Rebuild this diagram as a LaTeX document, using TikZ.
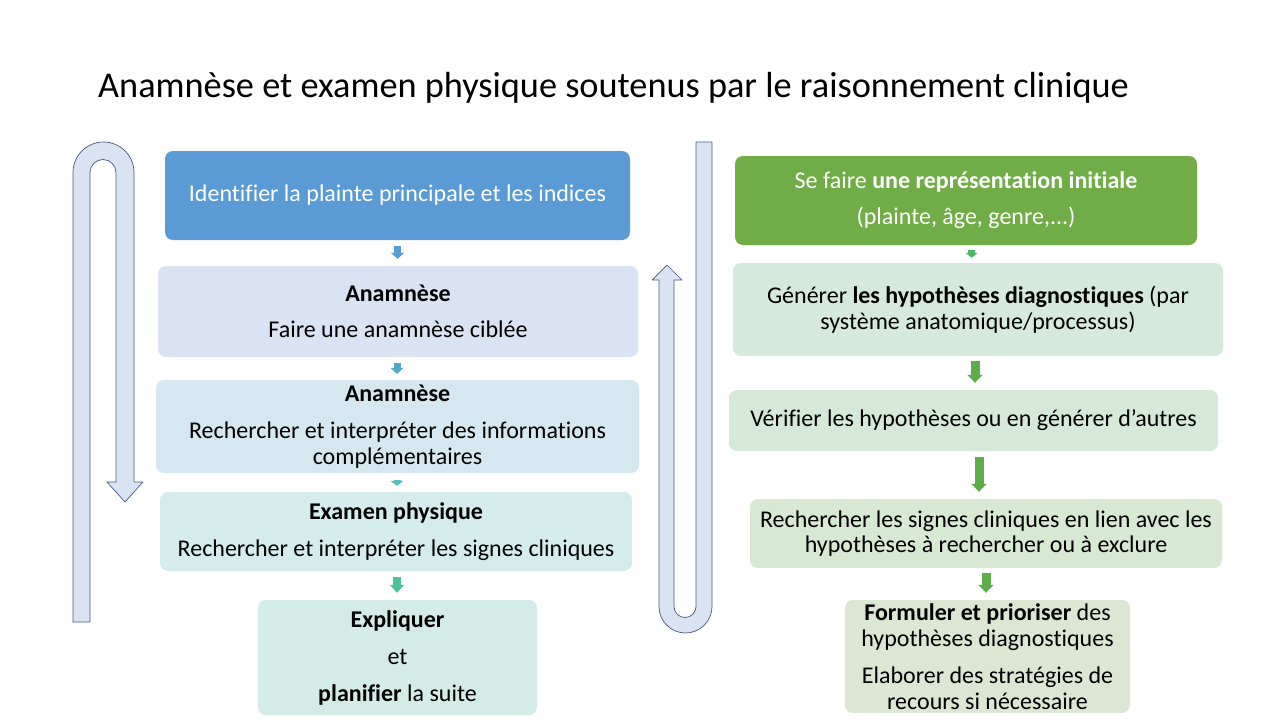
\documentclass[tikz,border=0pt]{standalone}
\usepackage{fontspec}
\setmainfont{Carlito}[Ligatures=NoCommon]
\usetikzlibrary{arrows.meta,calc}
\definecolor{cblue}{HTML}{5B9BD5}
\definecolor{cgreen}{HTML}{70AD47}
\definecolor{fL2}{HTML}{DAE3F3}
\definecolor{fL3}{HTML}{D6E8EF}
\definecolor{fL4}{HTML}{D5ECEC}
\definecolor{fL5}{HTML}{D4ECE7}
\definecolor{fR2}{HTML}{D5EADC}
\definecolor{fR3}{HTML}{D6E9D9}
\definecolor{fR4}{HTML}{D7E8D3}
\definecolor{fR5}{HTML}{DCE7D3}
\definecolor{aL2}{HTML}{4BACC6}
\definecolor{aL3}{HTML}{53C0BE}
\definecolor{aL4}{HTML}{4CC397}
\definecolor{aR1}{HTML}{4DB86C}
\definecolor{aR}{HTML}{5DAE4B}
\definecolor{ufill}{HTML}{DAE3F3}
\definecolor{uline}{HTML}{4A5B7D}
\tikzset{
  box/.style={draw=none, rounded corners=8pt, align=center, inner sep=0pt,
    font=\fontsize{24}{25.5}\selectfont, text=black},
  barr/.style={line width=#1, -{Triangle[width=13pt,length=6pt]}},
  uturn/.style={fill=ufill, draw=uline, line width=0.7pt, line join=round}
}
\begin{document}
\begin{tikzpicture}[x=1pt,y=-1pt]
\useasboundingbox (0,0) rectangle (1280,720);
\fill[white] (0,0) rectangle (1280,720);

\node[anchor=west, inner sep=0pt, font=\fontsize{36.3}{40}\selectfont] (title) at (98,88)
  {Anamnèse et examen physique soutenus par le raisonnement clinique};

% U-turn arrows
\draw[uturn] (73,622) -- (73,172.5) arc[start angle=180,end angle=360,radius=30.5]
  -- (134,482) -- (143,482) -- (125,502) -- (107,482) -- (116,482) -- (116,172.5)
  arc[start angle=360,end angle=180,radius=13] -- (90,622) -- cycle;
\draw[uturn] (696,142) -- (712,142) -- (712,606.5) arc[start angle=0,end angle=180,radius=26.5]
  -- (659,280) -- (652,280) -- (667,265) -- (682,280) -- (674,280) -- (674,606.5)
  arc[start angle=180,end angle=0,radius=11] -- cycle;

% left column
\node[box, fill=cblue, text=white, minimum width=465pt, minimum height=89pt] (L1) at (397.5,195.5)
  {Identifier la plainte principale et les indices};
\node[box, fill=fL2, minimum width=480pt, minimum height=91pt] (L2) at (398,311.5)
  {\textbf{Anamnèse}\\[10.5pt] Faire une anamnèse ciblée};
\node[box, fill=fL3, minimum width=483pt, minimum height=93pt] (L3) at (397.5,426.5)
  {\textbf{Anamnèse}\\[11.5pt] Rechercher et interpréter des informations\\ complémentaires};
\node[box, fill=fL4, minimum width=472pt, minimum height=79pt] (L4) at (396,531.5)
  {\textbf{Examen physique}\\[11.5pt] Rechercher et interpréter les signes cliniques};
\node[box, fill=fL5, minimum width=279pt, minimum height=115pt] (L5) at (397.5,657.5)
  {\textbf{Expliquer}\\[11.5pt] et\\[11.5pt] \textbf{planifier} la suite};

% right column
\node[box, fill=cgreen, text=white, minimum width=462pt, minimum height=89pt] (R1) at (966,200.5)
  {Se faire \textbf{une représentation initiale}\\[10.5pt] (plainte, âge, genre,...)};
\node[box, fill=fR2, minimum width=490pt, minimum height=93pt] (R2) at (978,309.5)
  {Générer \textbf{les hypothèses diagnostiques} (par\\ système anatomique/processus)};
\node[box, fill=fR3, minimum width=489pt, minimum height=61pt] (R3) at (973.5,420.5)
  {Vérifier les hypothèses ou en générer d’autres};
\node[box, fill=fR4, minimum width=472pt, minimum height=69pt] (R4) at (986,533.5)
  {Rechercher les signes cliniques en lien avec les\\ hypothèses à rechercher ou à exclure};
\node[box, fill=fR5, minimum width=285pt, minimum height=113pt] (R5) at (987.5,656.5)
  {\textbf{Formuler et prioriser} des\\ hypothèses diagnostiques\\[12pt] Elaborer des stratégies de\\ recours si nécessaire};

% left connectors
\draw[barr=7pt, cblue] ($(L1.south)+(0,6)$) -- ($(L2.north)+(-0.5,-7)$);
\draw[barr=7pt, aL2] ($(L2.south)+(-1,6)$) -- ($(L3.north)+(-0.5,-6)$);
\draw[aL3, -{Triangle[width=13pt,length=5pt]}, line width=7pt] ($(L3.south)+(-0.5,7)$) -- ($(L4.north)+(1,-6)$);
\draw[aL4, line width=8pt, -{Triangle[width=14pt,length=8pt]}] ($(L4.south)+(1,6)$) -- ($(L5.north)+(-0.5,-7)$);

% right connectors
\draw[aR1, -{Triangle[width=12pt,length=5pt]}, line width=7pt] ($(R1.south)+(5.7,5)$) -- ($(R2.north)+(-6.3,-5)$);
\draw[aR, line width=9pt, -{Triangle[width=15pt,length=8pt]}] ($(R2.south)+(-3,5)$) -- ($(R3.north)+(1.5,-7)$);
\draw[aR, line width=9pt, -{Triangle[width=15pt,length=8pt]}] ($(R3.south)+(5.5,6)$) -- ($(R4.north)+(-7,-7)$);
\draw[aR, line width=9pt, -{Triangle[width=15pt,length=8pt]}] ($(R4.south)+(0,5)$) -- ($(R5.north)+(-1.5,-7)$);
\end{tikzpicture}
\end{document}
